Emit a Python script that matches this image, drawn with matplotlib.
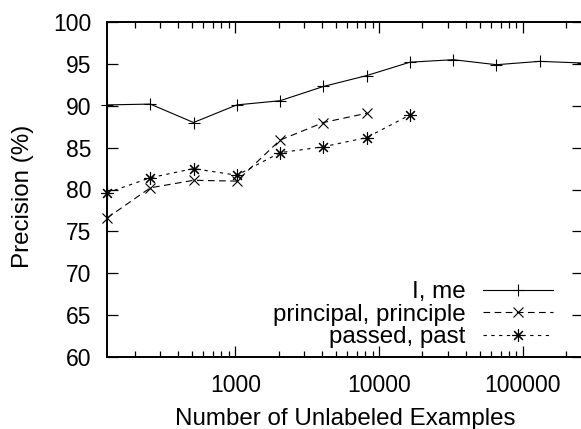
import matplotlib
matplotlib.use('Agg')
import matplotlib.pyplot as plt
from matplotlib.ticker import FixedLocator, LogLocator, NullFormatter

plt.rcParams['font.family'] = ['Liberation Sans', 'DejaVu Sans']

# number of unlabeled examples (powers of two)
sizes = [128, 256, 512, 1024, 2048, 4096, 8192, 16384, 32768, 65536, 131072, 262144]

i_me = [90.1, 90.2, 88.0, 90.1, 90.6, 92.3, 93.6, 95.2, 95.5, 94.9, 95.3, 95.1]
principal = [76.6, 80.2, 81.1, 81.0, 85.9, 88.0, 89.1]
passed = [79.6, 81.4, 82.5, 81.7, 84.4, 85.1, 86.2, 88.9]

labels = ['I, me', 'principal, principle', 'passed, past']
xticks = [1000, 10000, 100000]
yticks = [60, 65, 70, 75, 80, 85, 90, 95, 100]

fs = 16.5    # tick labels
fs2 = 17.4   # titles and legend

fig = plt.figure(figsize=(5.81, 4.29), dpi=100)
ax = fig.add_axes([107 / 581, (429 - 357) / 429, 476 / 581, (357 - 22) / 429])

lw = 0.8
ax.plot(sizes, i_me, color='black', lw=lw, marker='+', ms=9, mew=0.8,
        label=labels[0], clip_on=False)
ax.plot(sizes[:len(principal)], principal, color='black', lw=lw,
        ls=(0, (6, 4)), marker='x', ms=7.5, mew=0.8, label=labels[1], clip_on=False)
ax.plot(sizes[:len(passed)], passed, color='black', lw=lw,
        ls=(0, (3, 4)), marker=(8, 2, 0), ms=9, mew=0.8, label=labels[2], clip_on=False)

ax.set_xscale('log')
ax.set_xlim(128, 262144)
ax.set_ylim(60, 100)
ax.xaxis.set_major_locator(FixedLocator(xticks))
ax.set_xticklabels([str(t) for t in xticks])
ax.xaxis.set_minor_locator(LogLocator(base=10, subs=range(2, 10), numticks=20))
ax.xaxis.set_minor_formatter(NullFormatter())
ax.set_yticks(yticks)
ax.set_yticklabels([str(t) for t in yticks])

for s in ax.spines.values():
    s.set_linewidth(1.4)
ax.tick_params(which='both', direction='in', top=True, right=True,
               labelsize=fs, width=0.9)
ax.tick_params(axis='y', which='major', length=8, pad=11)
ax.tick_params(axis='x', which='major', length=8, pad=12)
ax.tick_params(which='minor', length=4)

# axis titles placed like gnuplot does
fig.text(345 / 581, 4 / 429, 'Number of Unlabeled Examples', fontsize=fs2,
         ha='center', va='baseline')
fig.text(23 / 581, 1 - 196 / 429, 'Precision (%)', fontsize=fs2,
         rotation=90, ha='center', va='center')

ax.legend(loc='lower right', bbox_to_anchor=(553 / 581, (429 - 348) / 429),
          bbox_transform=fig.transFigure, frameon=False, markerfirst=False,
          fontsize=fs2, handlelength=70 / 24.2, handletextpad=0.72, labelspacing=0.02,
          borderpad=0, borderaxespad=0)

fig.savefig('out.png', dpi=100)
